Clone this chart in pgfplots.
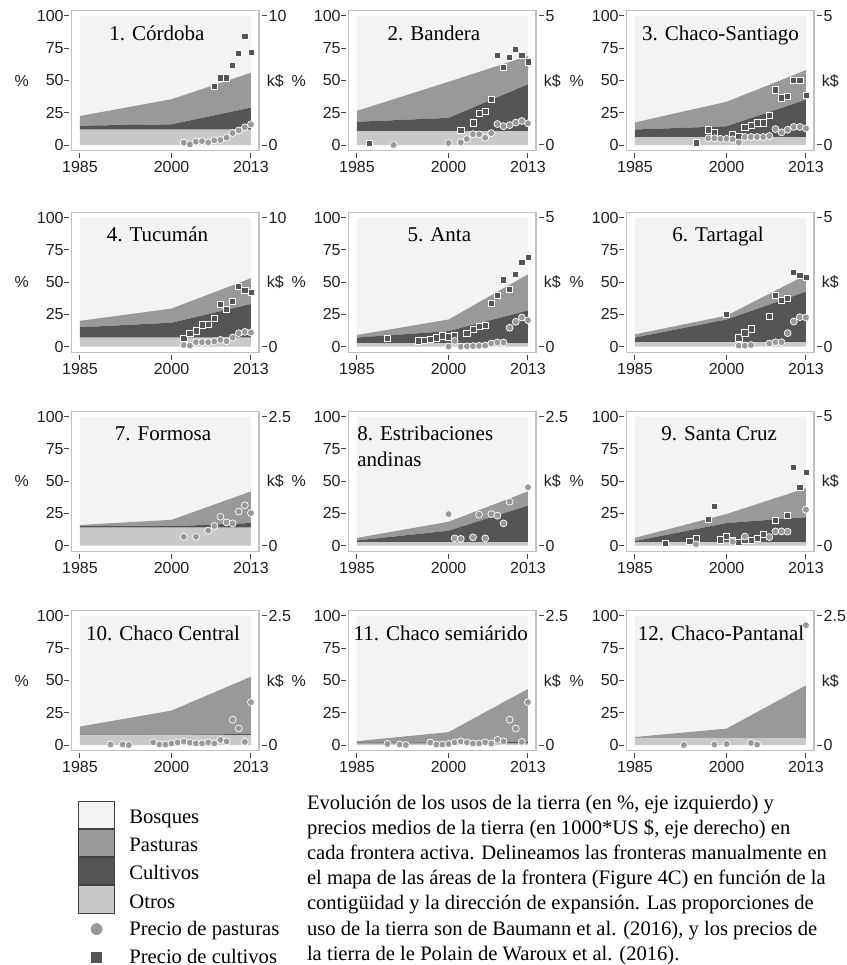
\documentclass[border=0pt]{standalone}
\usepackage{fontspec}
\setmainfont{Liberation Serif}
\setsansfont{Liberation Sans}
\usepackage{pgfplots}
\usepackage{pgfplotstable}
\pgfplotsset{compat=1.18}

\definecolor{bosq}{HTML}{F3F3F3}
\definecolor{past}{HTML}{999999}
\definecolor{cult}{HTML}{555555}
\definecolor{otros}{HTML}{C9C9C9}
\definecolor{framec}{HTML}{C0C0C0}
\definecolor{tickc}{HTML}{444444}

\newcommand\tickfont{\sffamily\fontsize{8}{9}\selectfont}
\newcommand\titfont{\rmfamily\fontsize{10.5}{12}\selectfont}
\newcommand\capfont{\rmfamily\fontsize{10.3}{12.6}\selectfont}

% land use shares (%): otros, cultivos, pasturas, bosques
\pgfplotstableread{
yr o c p b
1985 12 3 7.5 77.5
2000 12 4 19.5 64.5
2013 12 17 27 44
}\LA
\pgfplotstableread{
yr o c p b
1985 10.5 7.5 8.5 73.5
2000 10.5 10.5 28 51
2013 10.5 36.5 22 31
}\LB
\pgfplotstableread{
yr o c p b
1985 6 6 5.5 82.5
2000 6 8.5 19 66.5
2013 6 29 23 42
}\LC
\pgfplotstableread{
yr o c p b
1985 7 8 5 80
2000 7 11.5 11 70.5
2013 7 26 20 47
}\LD
\pgfplotstableread{
yr o c p b
1985 2.5 4.5 2 91
2000 2.5 9.5 9 79
2013 2.5 25.5 28 44
}\LE
\pgfplotstableread{
yr o c p b
1985 3.5 3.5 2.5 90.5
2000 3.5 17.5 3 76
2013 3.5 39 13 44.5
}\LF
\pgfplotstableread{
yr o c p b
1985 14 1 1 84
2000 14 1 5 80
2013 14 3.5 24.5 58
}\LG
\pgfplotstableread{
yr o c p b
1985 2.5 1.5 2 94
2000 2.5 9 7 81.5
2013 2.5 28.5 11 58
}\LH
\pgfplotstableread{
yr o c p b
1985 2.5 1 2.5 94
2000 2.5 15 7 75.5
2013 2.5 19.5 22.5 55.5
}\LI
\pgfplotstableread{
yr o c p b
1985 7.5 0.3 6.5 85.7
2000 7.5 0.5 18.7 73.3
2013 7.5 1 44.5 47
}\LJ
\pgfplotstableread{
yr o c p b
1985 1 1 1 97
2000 1 1 8 90
2013 1 1.5 41 56.5
}\LK
\pgfplotstableread{
yr o c p b
1985 5.5 0.2 0.5 93.8
2000 5.5 0.2 7 87.3
2013 5.5 0.2 40.5 53.8
}\LL

% prices (k$): S = cultivos (squares), C = pasturas (circles)
\pgfplotstableread{
yr v
2007 4.56
2008 5.2
2009 5.2
2010 6.2
2011 7.1
2012 8.45
2013 7.2
}\SA
\pgfplotstableread{
yr v
2002 0.18
2003 0.05
2004 0.26
2005 0.3
2006 0.2
2007 0.36
2008 0.39
2009 0.57
2010 0.93
2011 1.13
2012 1.37
2013 1.6
}\CA
\pgfplotstableread{
yr v
1987 0.05
2002 0.58
2004 0.86
2005 1.24
2006 1.3
2007 1.76
2008 3.48
2009 3.0
2010 3.4
2011 3.7
2012 3.48
2013 3.22
}\SB
\pgfplotstableread{
yr v
1991 0.0
2000 0.08
2002 0.1
2003 0.23
2004 0.42
2005 0.41
2006 0.28
2007 0.46
2008 0.81
2009 0.73
2010 0.77
2011 0.87
2012 0.93
2013 0.84
}\CB
\pgfplotstableread{
yr v
1995 0.08
1997 0.59
1998 0.49
2001 0.39
2002 0.35
2003 0.67
2004 0.75
2005 0.86
2006 0.86
2007 1.15
2008 2.14
2009 1.83
2010 1.88
2011 2.5
2012 2.51
2013 1.92
}\SC
\pgfplotstableread{
yr v
1997 0.26
1998 0.26
1999 0.24
2000 0.24
2001 0.22
2002 0.1
2003 0.31
2004 0.31
2005 0.31
2006 0.31
2007 0.35
2008 0.62
2009 0.49
2010 0.59
2011 0.7
2012 0.7
2013 0.64
}\CC
\pgfplotstableread{
yr v
2002 0.65
2003 1.01
2004 1.22
2005 1.69
2006 1.71
2007 2.16
2008 3.3
2009 2.91
2010 3.5
2011 4.68
2012 4.36
2013 4.23
}\SD
\pgfplotstableread{
yr v
2002 0.13
2003 0.08
2004 0.34
2005 0.34
2006 0.34
2007 0.39
2008 0.52
2009 0.42
2010 0.7
2011 1.04
2012 1.14
2013 1.09
}\CD
\pgfplotstableread{
yr v
1990 0.31
1995 0.22
1996 0.25
1997 0.29
1998 0.34
1999 0.42
2000 0.38
2001 0.42
2003 0.51
2004 0.67
2005 0.79
2006 0.82
2007 1.68
2008 1.99
2009 2.59
2010 2.21
2011 2.79
2012 3.25
2013 3.46
}\SE
\pgfplotstableread{
yr v
2000 0.0
2001 0.22
2002 0.0
2003 0.01
2004 0.02
2005 0.03
2006 0.04
2007 0.12
2008 0.16
2009 0.16
2010 0.73
2011 0.96
2012 1.13
2013 1.02
}\CE
\pgfplotstableread{
yr v
2000 1.25
2002 0.34
2003 0.53
2004 0.69
2007 1.16
2008 1.99
2009 1.78
2010 1.87
2011 2.87
2012 2.77
2013 2.68
}\SF
\pgfplotstableread{
yr v
2002 0.04
2003 0.04
2004 0.06
2007 0.12
2008 0.17
2009 0.17
2010 0.52
2011 0.97
2012 1.14
2013 1.13
}\CF
\pgfplotstableread{
yr v
2002 0.17
2004 0.17
2006 0.29
2007 0.38
2008 0.56
2009 0.45
2010 0.43
2011 0.66
2012 0.78
2013 0.63
}\CG
\pgfplotstableread{
yr v
2000 0.61
2001 0.14
2002 0.13
2004 0.16
2005 0.6
2006 0.14
2007 0.61
2008 0.58
2009 0.43
2010 0.85
2013 1.13
}\CH
\pgfplotstableread{
yr v
1990 0.08
1994 0.17
1995 0.26
1997 1.02
1998 1.52
1999 0.22
2000 0.36
2001 0.21
2002 0.13
2003 0.2
2004 0.2
2005 0.27
2006 0.43
2008 0.97
2010 1.17
2011 3.03
2012 2.27
2013 2.85
}\SI
\pgfplotstableread{
yr v
1995 0.05
2001 0.15
2003 0.35
2007 0.33
2008 0.55
2009 0.55
2010 0.54
2013 1.39
}\CI
\pgfplotstableread{
yr v
1990 0.01
1992 0.01
1993 0.0
1997 0.05
1998 0.01
1999 0.01
2000 0.03
2001 0.05
2002 0.065
2003 0.045
2004 0.03
2005 0.03
2006 0.05
2007 0.03
2008 0.1
2009 0.07
2010 0.49
2011 0.32
2012 0.06
2013 0.83
}\CJ
\pgfplotstableread{
yr v
1990 0.02
1992 0.01
1993 0.0
1997 0.05
1998 0.01
1999 0.01
2000 0.02
2001 0.05
2002 0.07
2003 0.05
2004 0.03
2005 0.03
2006 0.05
2007 0.03
2008 0.1
2009 0.07
2010 0.49
2011 0.32
2012 0.06
2013 0.83
}\CK
\pgfplotstableread{
yr v
1993 0.0
1998 0.01
2000 0.02
2004 0.04
2005 0.01
2013 2.32
}\CL

\pgfplotsset{
  panel/.style={scale only axis, width=93.75pt, height=70pt,
    xmin=1983.6, xmax=2014.3, anchor=north west,
    /pgf/number format/assume math mode=true,
    tick align=outside, major tick length=2.5pt,
    ticklabel style={font=\tickfont, text=black!88}},
  land/.style={panel, ymin=-4.5, ymax=104, stack plots=y,
    axis line style={draw=framec, line width=0.6pt},
    xtick={1985,2000,2013}, ytick={0,25,50,75,100},
    xtick pos=bottom, ytick pos=left,
    xticklabel style={/pgf/number format/1000 sep={}, inner sep=2.8pt},
    yticklabel style={inner sep=1.2pt},
    xtick style={draw=tickc, line width=0.5pt, yshift=-1.3pt},
    ytick style={draw=tickc, line width=0.5pt, xshift=-1.3pt}},
  price/.style n args={3}{panel, ymin=#1, ymax=#2, ytick={0,#3},
    hide x axis, axis y line*=right, y axis line style={draw=none},
    yticklabel style={inner sep=2.2pt},
    ytick style={draw=tickc, line width=0.5pt, xshift=1.3pt}, clip=false},
  sq/.style={only marks, mark=square*, mark size=1.55pt,
    mark options={fill=cult, draw=white, line width=0.35pt}},
  ci/.style={only marks, mark=*, mark size=1.75pt,
    mark options={fill=past, draw=white, line width=0.35pt}},
}
\tikzset{
  tit/.style={font=\titfont, anchor=base, inner sep=0pt, text=black},
  side/.style={font=\tickfont, inner sep=0pt, text=black!88},
}

\newcommand\landplots[1]{%
  \addplot[draw=none, fill=otros] table[x=yr, y=o] {#1} \closedcycle;
  \addplot[draw=none, fill=cult]  table[x=yr, y=c] {#1} \closedcycle;
  \addplot[draw=none, fill=past]  table[x=yr, y=p] {#1} \closedcycle;
  \addplot[draw=none, fill=bosq]  table[x=yr, y=b] {#1} \closedcycle;
}
% side labels and panel title, drawn in the (unclipped) price axis
\newcommand\decor[2]{%
  \node[side, anchor=center] at (axis description cs:-0.265,0.5) {\%};
  \node[side, anchor=west] at (axis description cs:1.04,0.5) {k\$};
  \node[tit] at (axis description cs:#1,0.79) {#2};
}

\begin{document}
\begin{tikzpicture}
\useasboundingbox (0,0) rectangle (423.5pt,-482.5pt);

% ---- row 1
\begin{axis}[land, at={(35.7pt,-5.4pt)}]
  \landplots{\LA}
\end{axis}
\begin{axis}[price={-0.45}{10.4}{10}, at={(35.7pt,-5.4pt)}]
  \addplot[sq] table[x=yr, y=v] {\SA};
  \addplot[ci] table[x=yr, y=v] {\CA};
  \decor{0.456}{1. Córdoba}
\end{axis}

\begin{axis}[land, at={(174.2pt,-5.4pt)}]
  \landplots{\LB}
\end{axis}
\begin{axis}[price={-0.225}{5.2}{5}, at={(174.2pt,-5.4pt)}]
  \addplot[sq] table[x=yr, y=v] {\SB};
  \addplot[ci] table[x=yr, y=v] {\CB};
  \decor{0.456}{2. Bandera}
\end{axis}

\begin{axis}[land, at={(313.2pt,-5.4pt)}]
  \landplots{\LC}
\end{axis}
\begin{axis}[price={-0.225}{5.2}{5}, at={(313.2pt,-5.4pt)}]
  \addplot[sq] table[x=yr, y=v] {\SC};
  \addplot[ci] table[x=yr, y=v] {\CC};
  \decor{0.502}{3. Chaco-Santiago}
\end{axis}

% ---- row 2
\begin{axis}[land, at={(35.7pt,-106.2pt)}]
  \landplots{\LD}
\end{axis}
\begin{axis}[price={-0.45}{10.4}{10}, at={(35.7pt,-106.2pt)}]
  \addplot[sq] table[x=yr, y=v] {\SD};
  \addplot[ci] table[x=yr, y=v] {\CD};
  \decor{0.459}{4. Tucumán}
\end{axis}

\begin{axis}[land, at={(174.2pt,-106.2pt)}]
  \landplots{\LE}
\end{axis}
\begin{axis}[price={-0.225}{5.2}{5}, at={(174.2pt,-106.2pt)}]
  \addplot[sq] table[x=yr, y=v] {\SE};
  \addplot[ci] table[x=yr, y=v] {\CE};
  \decor{0.485}{5. Anta}
\end{axis}

\begin{axis}[land, at={(313.2pt,-106.2pt)}]
  \landplots{\LF}
\end{axis}
\begin{axis}[price={-0.225}{5.2}{5}, at={(313.2pt,-106.2pt)}]
  \addplot[sq] table[x=yr, y=v] {\SF};
  \addplot[ci] table[x=yr, y=v] {\CF};
  \decor{0.489}{6. Tartagal}
\end{axis}

% ---- row 3
\begin{axis}[land, at={(35.7pt,-205.7pt)}]
  \landplots{\LG}
\end{axis}
\begin{axis}[price={-0.1125}{2.6}{2.5}, at={(35.7pt,-205.7pt)}]
  \addplot[ci] table[x=yr, y=v] {\CG};
  \decor{0.489}{7. Formosa}
\end{axis}

\begin{axis}[land, at={(174.2pt,-205.7pt)}]
  \landplots{\LH}
\end{axis}
\begin{axis}[price={-0.1125}{2.6}{2.5}, at={(174.2pt,-205.7pt)}]
  \addplot[ci] table[x=yr, y=v] {\CH};
  \decor{0.0456}{}
  \node[tit, anchor=base west] at (axis description cs:0.0456,0.79) {8. Estribaciones};
  \node[tit, anchor=base west] at (axis description cs:0.0456,0.606) {andinas};
\end{axis}

\begin{axis}[land, at={(313.2pt,-205.7pt)}]
  \landplots{\LI}
\end{axis}
\begin{axis}[price={-0.225}{5.2}{5}, at={(313.2pt,-205.7pt)}]
  \addplot[sq] table[x=yr, y=v] {\SI};
  \addplot[ci] table[x=yr, y=v] {\CI};
  \decor{0.495}{9. Santa Cruz}
\end{axis}

% ---- row 4
\begin{axis}[land, at={(35.7pt,-305.4pt)}]
  \landplots{\LJ}
\end{axis}
\begin{axis}[price={-0.1125}{2.6}{2.5}, at={(35.7pt,-305.4pt)}]
  \addplot[ci] table[x=yr, y=v] {\CJ};
  \decor{0.489}{10. Chaco Central}
\end{axis}

\begin{axis}[land, at={(174.2pt,-305.4pt)}]
  \landplots{\LK}
\end{axis}
\begin{axis}[price={-0.1125}{2.6}{2.5}, at={(174.2pt,-305.4pt)}]
  \addplot[ci] table[x=yr, y=v] {\CK};
  \decor{0.492}{11. Chaco semiárido}
\end{axis}

\begin{axis}[land, at={(313.2pt,-305.4pt)}]
  \landplots{\LL}
\end{axis}
\begin{axis}[price={-0.1125}{2.6}{2.5}, at={(313.2pt,-305.4pt)}]
  \addplot[ci] table[x=yr, y=v] {\CL};
  \decor{0.505}{12. Chaco-Pantanal}
\end{axis}

% ---- legend
\begin{axis}[hide axis, scale only axis, width=10pt, height=10pt,
  xmin=0, xmax=1, ymin=0, ymax=1, anchor=north west, at={(39pt,-400.35pt)},
  legend style={at={(0,1)}, anchor=north west, draw=none, fill=none,
    inner sep=0pt, outer sep=0pt, row sep=0pt, column sep=7.2pt,
    font=\capfont, nodes={inner sep=0pt, text height=11.15pt, text depth=2.45pt}},
  legend cell align=left]
  \addlegendimage{legend image code/.code={\draw[fill=bosq, draw=black!75, line width=0.5pt] (0pt,-6.8pt) rectangle (18pt,6.8pt);}}
  \addlegendentry{Bosques}
  \addlegendimage{legend image code/.code={\draw[fill=past, draw=black!75, line width=0.5pt] (0pt,-6.8pt) rectangle (18pt,6.8pt);}}
  \addlegendentry{Pasturas}
  \addlegendimage{legend image code/.code={\draw[fill=cult, draw=black!75, line width=0.5pt] (0pt,-6.8pt) rectangle (18pt,6.8pt);}}
  \addlegendentry{Cultivos}
  \addlegendimage{legend image code/.code={\draw[fill=otros, draw=black!75, line width=0.5pt] (0pt,-6.8pt) rectangle (18pt,6.8pt);}}
  \addlegendentry{Otros}
  \addlegendimage{legend image code/.code={\draw[only marks, mark=*, mark size=3.2pt, mark options={fill=past, draw=white, line width=0.4pt}] plot coordinates {(9pt,-1pt)};}}
  \addlegendentry{Precio de pasturas}
  \addlegendimage{legend image code/.code={\draw[only marks, mark=square*, mark size=2.9pt, mark options={fill=cult, draw=white, line width=0.4pt}] plot coordinates {(9pt,-1.5pt)};}}
  \addlegendentry{Precio de cultivos}
\end{axis}

% ---- caption
\node[anchor=north west, font=\capfont, align=left, inner sep=0pt] at (153.3pt,-395.5pt)
  {\strut Evolución de los usos de la tierra (en \%, eje izquierdo) y\\
   precios medios de la tierra (en 1000*US \$, eje derecho) en\\
   cada frontera activa. Delineamos las fronteras manualmente en\\
   el mapa de las áreas de la frontera (Figure 4C) en función de la\\
   contigüidad y la dirección de expansión. Las proporciones de\\
   uso de la tierra son de Baumann et al. (2016), y los precios de\\
   la tierra de le Polain de Waroux et al. (2016).};
\end{tikzpicture}
\end{document}
